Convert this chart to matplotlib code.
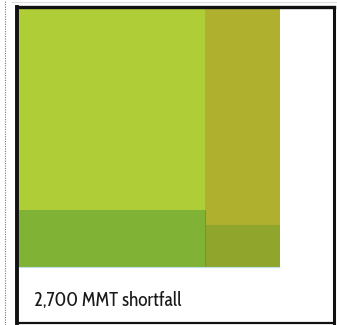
import matplotlib.pyplot as plt
from matplotlib.lines import Line2D

# Box is 100 x 100 units of demand; the blocks are supply, the rest is shortfall
BOX = 100.0
supply_floor = 17.7

col_names = ["Domestic", "Imports"]
col_widths = [59.5, 23.4]
lower_heights = [18.0, 13.3]
upper_heights = [64.2, 69.0]

upper_colors = ["#aecd37", "#aeb02e"]
lower_colors = ["#80b235", "#8fa52b"]

label = "2,700 MMT shortfall"

fig = plt.figure(figsize=(3.37, 3.25), dpi=100)
ax = fig.add_axes([16.5 / 337, 2 / 325, 317.5 / 337, 316.5 / 325])
ax.set_xlim(0, BOX)
ax.set_ylim(0, BOX)

x0 = 0.0
for w, lh, uh, uc, lc in zip(col_widths, lower_heights, upper_heights,
                             upper_colors, lower_colors):
    ax.bar(x0, lh, width=w, bottom=supply_floor, align="edge",
           color=lc, linewidth=0)
    ax.bar(x0, uh, width=w, bottom=supply_floor + lh, align="edge",
           color=uc, linewidth=0)
    x0 += w

# seam between the two lower bands and a pale rule under the blocks
ax.vlines(col_widths[0], supply_floor, supply_floor + lower_heights[0],
          color="#6b9a28", linewidth=0.7)
ax.hlines(supply_floor, 0, sum(col_widths), color="#bfe0e6", linewidth=0.8)

ax.set_xticks([])
ax.set_yticks([])
for side, lw in [("left", 2.8), ("top", 2.4), ("right", 2.2), ("bottom", 1.6)]:
    ax.spines[side].set_color("#111111")
    ax.spines[side].set_linewidth(lw)

ax.text(17 / 317, 17.5 / 316.5, label, transform=ax.transAxes, fontsize=13.9,
        family="Cabin Condensed", color="#1a1a1a", va="baseline", ha="left")

# dotted guide on the far left and a faint rule above the box
fig.add_artist(Line2D([4.5 / 337, 4.5 / 337], [0, 1], color="#777777",
                      linewidth=0.8, linestyle=(0, (1, 1.2))))
fig.add_artist(Line2D([12 / 337, 1], [1 - 2 / 325, 1 - 2 / 325],
                      color="#dddddd", linewidth=0.8))

fig.savefig("out.png", dpi=100)
